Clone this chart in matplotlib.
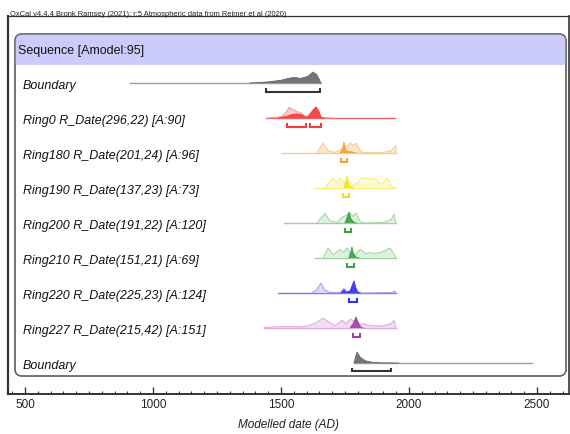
import numpy as np
import matplotlib
matplotlib.use("Agg")
import matplotlib.pyplot as plt
from matplotlib.patches import FancyBboxPatch, Rectangle
from matplotlib.ticker import MultipleLocator
from matplotlib.transforms import Affine2D

plt.rcParams["font.family"] = ["Liberation Sans", "DejaVu Sans"]

W, H = 570, 435

# ---- data (calendar years AD, relative density) ----
labels = ["Boundary", "Ring0 R_Date(296,22) [A:90]", "Ring180 R_Date(201,24) [A:96]",
          "Ring190 R_Date(137,23) [A:73]", "Ring200 R_Date(191,22) [A:120]",
          "Ring210 R_Date(151,21) [A:69]", "Ring220 R_Date(225,23) [A:124]",
          "Ring227 R_Date(215,42) [A:151]", "Boundary"]

spans = [(910, 1656), (1441, 1945), (1504, 1949), (1633, 1949), (1512, 1949),
         (1633, 1949), (1488, 1949), (1434, 1949), (1785, 2480)]

# likelihoods (unmodelled calibrated dates), None for boundaries
lik_x = [None,
         [1445, 1500, 1520, 1531, 1545, 1560, 1580, 1598, 1610, 1630, 1637, 1648, 1660, 1700],
         [1640, 1664, 1685, 1710, 1730, 1746, 1760, 1770, 1780, 1793, 1810, 1820, 1900, 1930, 1949, 1949],
         [1670, 1703, 1718, 1730, 1745, 1758, 1780, 1800, 1816, 1839, 1850, 1867, 1890, 1914, 1935, 1949],
         [1640, 1672, 1690, 1720, 1738, 1755, 1770, 1780, 1793, 1810, 1830, 1900, 1930, 1941, 1949],
         [1665, 1684, 1705, 1730, 1745, 1758, 1770, 1790, 1809, 1830, 1850, 1867, 1890, 1926, 1945, 1949],
         [1620, 1640, 1656, 1670, 1690, 1730, 1746, 1760, 1775, 1785, 1795, 1810, 1935, 1945, 1949],
         [1434, 1480, 1520, 1560, 1600, 1640, 1664, 1690, 1710, 1730, 1738, 1755, 1770, 1790, 1810,
          1820, 1850, 1900, 1930, 1941, 1949],
         None]
lik_y = [None,
         [0, 0.1, 0.5, 0.95, 0.8, 0.6, 0.45, 0.1, 0.3, 0.85, 0.95, 0.5, 0.05, 0],
         [0, 0.9, 0.2, 0.05, 0.3, 0.5, 0.6, 0.9, 0.7, 0.9, 0.2, 0.05, 0.05, 0.2, 0.7, 0],
         [0, 0.9, 0.5, 0.9, 0.4, 0.8, 0.2, 0.5, 0.9, 0.9, 0.8, 0.9, 0.3, 0.9, 0.1, 0],
         [0, 0.9, 0.2, 0.05, 0.5, 0.7, 0.9, 0.6, 0.9, 0.1, 0, 0.05, 0.3, 0.8, 0],
         [0, 0.9, 0.3, 0.8, 0.5, 0.9, 0.4, 0.3, 0.8, 0.4, 0.5, 0.4, 0.5, 0.9, 0.2, 0],
         [0, 0.3, 0.9, 0.3, 0.05, 0.05, 0.4, 0.1, 0.2, 0.5, 0.2, 0, 0.05, 0.2, 0],
         [0.05, 0.1, 0.15, 0.1, 0.15, 0.5, 0.9, 0.5, 0.2, 0.5, 0.7, 0.4, 0.8, 0.6, 0.3,
          0.4, 0.2, 0.2, 0.4, 0.7, 0],
         None]

# posteriors (modelled)
post_x = [[1379, 1450, 1500, 1535, 1555, 1575, 1590, 1605, 1625, 1640, 1650, 1656],
          [1490, 1520, 1540, 1560, 1580, 1598, 1610, 1625, 1637, 1648, 1656, 1665],
          [1730, 1740, 1746, 1752, 1760, 1770, 1785, 1795],
          [1745, 1752, 1758, 1764, 1775, 1785],
          [1750, 1758, 1766, 1773, 1785, 1795],
          [1765, 1772, 1777, 1783, 1795, 1805],
          [1735, 1746, 1755, 1770, 1780, 1785, 1792, 1800, 1810],
          [1770, 1782, 1793, 1802, 1812, 1820],
          [1785, 1792, 1797, 1810, 1830, 1860, 1900, 1960]]
post_y = [[0, 0.1, 0.25, 0.45, 0.5, 0.42, 0.5, 0.6, 1.0, 0.75, 0.3, 0],
          [0, 0.15, 0.3, 0.38, 0.3, 0.05, 0.2, 0.7, 1.0, 0.6, 0.05, 0],
          [0, 0.3, 1.0, 0.3, 0.1, 0.15, 0.05, 0],
          [0, 0.4, 1.1, 0.3, 0.05, 0],
          [0, 0.5, 1.0, 0.4, 0.05, 0],
          [0, 0.5, 1.0, 0.4, 0.05, 0],
          [0, 0.3, 0.05, 0.2, 0.8, 1.1, 0.5, 0.05, 0],
          [0, 0.4, 1.0, 0.5, 0.05, 0],
          [0, 0.6, 1.0, 0.5, 0.2, 0.05, 0.01, 0]]

# 95% ranges (brackets)
ranges = [[(1441, 1652)], [(1523, 1598), (1613, 1656)], [(1734, 1758)], [(1742, 1766)],
          [(1750, 1773)], [(1758, 1785)], [(1766, 1797)], [(1781, 1809)], [(1777, 1930)]]

# colours per row: (line, likelihood fill, likelihood edge, posterior)
colors = [("#9a9a9a", None, None, "#666666"),
          ("#f06060", "#f9c4c4", "#f4a0a0", "#f03c3c"),
          ("#f8cc88", "#fbe3bd", "#f6cf98", "#f2a230"),
          ("#f6f07a", "#fcf9c4", "#f4ee8a", "#f2e21e"),
          ("#9cd49c", "#d9efd9", "#a8d8a8", "#3fa03f"),
          ("#9cd49c", "#d9efd9", "#a8d8a8", "#3fa03f"),
          ("#7a7af0", "#d4d4f8", "#a8a8f0", "#3232e8"),
          ("#dcaadc", "#efd6ef", "#dcb0dc", "#a040a0"),
          ("#9a9a9a", None, None, "#666666")]

# ---- figure ----
fig = plt.figure(figsize=(W / 100, H / 100), dpi=100, facecolor="white")
ax = fig.add_axes([8 / W, 1 - 395 / H, 561 / W, (395 - 17) / H])
ax.set_facecolor("none")

x0 = 500 + (8 - 25) / 0.256
x1 = 500 + (569 - 25) / 0.256
ax.set_xlim(x0, x1)
ax.set_ylim((395 - 84) / 35, (17 - 84) / 35)  # rows 0..8, inverted
ax.autoscale(False)

pix = Affine2D().scale(1, -1).translate(0, H)  # image pixels -> display

box = FancyBboxPatch((15, 35), 551, 342, boxstyle="round,pad=0,rounding_size=7",
                     facecolor="white", edgecolor="#6a6a6a", lw=1.0,
                     transform=pix, zorder=0.5)
ax.add_patch(box)
head = Rectangle((15, 35), 551, 31, facecolor="#ccccfc", edgecolor="none",
                 transform=pix, zorder=0.6)
ax.add_patch(head)
head.set_clip_path(box)
ax.add_patch(FancyBboxPatch((15, 35), 551, 342, boxstyle="round,pad=0,rounding_size=7",
                            facecolor="none", edgecolor="#6a6a6a", lw=1.0,
                            transform=pix, zorder=0.7))
fig.text(18 / W, 1 - 51 / H, "Sequence [Amodel:95]", fontsize=9, va="center", color="#111111")

HS = 11 / 35   # one density unit ~ 11 px
BR = 8.5 / 35  # bracket offset below baseline
TK = 3 / 35

ytrans = ax.get_yaxis_transform()
for i, lab in enumerate(labels):
    yb = i
    lc, lf, le, pc = colors[i]
    ax.text(15 / 561, yb + 2 / 35, lab, transform=ytrans, fontsize=9, style="italic",
            va="center", ha="left", color="#111111", zorder=3)
    ax.plot(spans[i], [yb, yb], color=lc, lw=1.0, zorder=1)
    if lik_x[i] is not None:
        lx = np.array(lik_x[i]); ly = yb - np.array(lik_y[i]) * HS
        ax.fill_between(lx, yb, ly, facecolor=lf, edgecolor="none", alpha=0.85, zorder=1.2)
        ax.plot(lx, ly, color=le, lw=0.8, zorder=1.3)
    px = np.array(post_x[i]); py = yb - np.array(post_y[i]) * HS
    ax.fill_between(px, yb, py, facecolor=pc, edgecolor="none", alpha=0.9, zorder=1.5)
    ax.plot(px, py, color=pc, lw=0.6, zorder=1.6)
    for a, b in ranges[i]:
        yy = yb + BR
        ax.plot([a, a, b, b], [yy - TK, yy, yy, yy - TK], color=pc if i not in (0, 8) else "#333333",
                lw=1.5, solid_joinstyle="miter", zorder=2)

# axis styling
for s in ["left", "right", "top", "bottom"]:
    ax.spines[s].set_color("#333333")
ax.spines["bottom"].set_linewidth(1.4)
ax.spines["left"].set_linewidth(1.6)
ax.spines["top"].set_linewidth(0.9)
ax.spines["right"].set_linewidth(1.2)
ax.xaxis.set_major_locator(MultipleLocator(500))
ax.xaxis.set_minor_locator(MultipleLocator(50))
ax.tick_params(axis="x", which="major", direction="in", length=5, width=1.0,
               color="#333333", labelsize=8.5, pad=3, labelcolor="#222222")
ax.tick_params(axis="x", which="minor", direction="in", length=2.5, width=0.8, color="#333333")
ax.set_yticks([])
ax.set_xlabel("Modelled date (AD)", fontsize=8.5, style="italic", labelpad=6, color="#222222")

fig.text(10 / W, 1 - 16 / H,
         "OxCal v4.4.4 Bronk Ramsey (2021); r:5 Atmospheric data from Reimer et al (2020)",
         fontsize=5.4, va="baseline", ha="left", color="#222222")

fig.savefig("out.png", dpi=100, facecolor="white")
